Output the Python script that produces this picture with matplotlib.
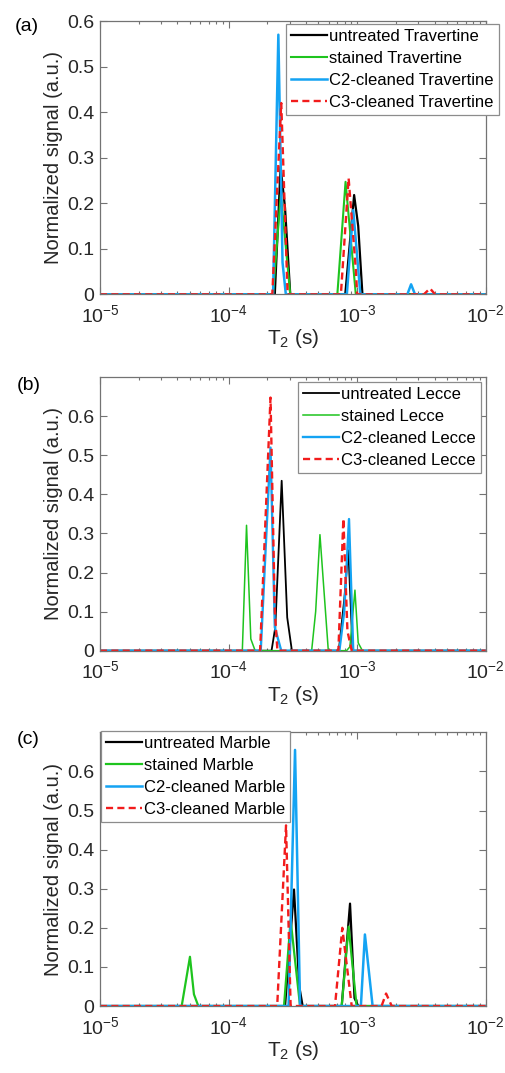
import matplotlib
matplotlib.use("Agg")
import matplotlib.pyplot as plt
from matplotlib.ticker import LogLocator, NullFormatter, FixedLocator

plt.rcParams["font.family"] = ["Liberation Sans", "DejaVu Sans"]
plt.rcParams["mathtext.fontset"] = "custom"
plt.rcParams["mathtext.rm"] = "Liberation Sans"
plt.rcParams["mathtext.it"] = "Liberation Sans:italic"
plt.rcParams["mathtext.default"] = "regular"

# ---------------- T2 distributions (T2 in s, normalized signal) ----------------
# (a) Travertine
trav_untreated_t2 = [1e-5, 2.29e-4, 2.54e-4, 2.75e-4, 3.02e-4, 8.09e-4, 9.48e-4, 1.02e-3, 1.10e-3, 1e-2]
trav_untreated_s = [0, 0, 0.28, 0.19, 0, 0, 0.218, 0.15, 0, 0]
trav_stained_t2 = [1e-5, 2.22e-4, 2.55e-4, 3.02e-4, 7.02e-4, 8.13e-4, 9.77e-4, 1e-2]
trav_stained_s = [0, 0, 0.22, 0, 0, 0.247, 0, 0]
trav_c2_t2 = [1e-5, 2.22e-4, 2.44e-4, 2.63e-4, 2.79e-4, 8.32e-4, 9.33e-4, 1.06e-3,
              2.46e-3, 2.63e-3, 2.82e-3, 1e-2]
trav_c2_s = [0, 0, 0.57, 0.07, 0, 0, 0.185, 0, 0, 0.022, 0, 0]
trav_c3_t2 = [1e-5, 2.19e-4, 2.57e-4, 2.88e-4, 7.48e-4, 8.59e-4, 9.8e-4, 1.0e-3,
              3.31e-3, 3.69e-3, 4.04e-3, 1e-2]
trav_c3_s = [0, 0, 0.42, 0, 0, 0.255, 0.05, 0, 0, 0.013, 0, 0]

# (b) Lecce stone
lecce_untreated_t2 = [1e-5, 2.16e-4, 2.31e-4, 2.59e-4, 2.86e-4, 3.11e-4,
                      7.2e-4, 7.94e-4, 8.55e-4, 9.23e-4, 1e-2]
lecce_untreated_s = [0, 0, 0.06, 0.435, 0.085, 0, 0, 0.13, 0.257, 0, 0]
lecce_stained_t2 = [1e-5, 1.28e-4, 1.38e-4, 1.49e-4, 1.61e-4,
                    4.43e-4, 4.76e-4, 5.14e-4, 5.97e-4,
                    8.28e-4, 8.79e-4, 9.62e-4, 1.02e-3, 1.10e-3, 1e-2]
lecce_stained_s = [0, 0, 0.321, 0.03, 0, 0, 0.1, 0.297, 0, 0, 0.01, 0.155, 0.02, 0, 0]
lecce_c2_t2 = [1e-5, 1.78e-4, 2.12e-4, 2.29e-4, 2.57e-4, 7.28e-4, 7.94e-4, 8.65e-4, 9.33e-4, 1e-2]
lecce_c2_s = [0, 0, 0.52, 0.06, 0, 0, 0.1, 0.337, 0, 0]
lecce_c3_t2 = [1e-5, 1.76e-4, 2.12e-4, 2.29e-4, 2.40e-4, 7.15e-4, 7.82e-4, 8.41e-4, 9.08e-4, 1e-2]
lecce_c3_s = [0, 0, 0.648, 0.1, 0, 0, 0.338, 0.05, 0, 0]

# (c) Marble
marble_untreated_t2 = [1e-5, 2.75e-4, 3.23e-4, 3.55e-4, 3.77e-4, 7.59e-4, 8.81e-4, 9.55e-4, 1.02e-3, 1e-2]
marble_untreated_s = [0, 0, 0.298, 0.05, 0, 0, 0.262, 0.02, 0, 0]
marble_stained_t2 = [1e-5, 4.32e-5, 5.01e-5, 5.38e-5, 5.82e-5, 2.70e-4, 3.04e-4, 3.60e-4,
                     7.59e-4, 8.59e-4, 9.91e-4, 1e-2]
marble_stained_s = [0, 0, 0.126, 0.03, 0, 0, 0.22, 0, 0, 0.203, 0, 0]
marble_c2_t2 = [1e-5, 2.93e-4, 3.29e-4, 3.60e-4, 1.07e-3, 1.15e-3, 1.32e-3, 1e-2]
marble_c2_s = [0, 0, 0.655, 0, 0, 0.183, 0, 0]
marble_c3_t2 = [1e-5, 2.39e-4, 2.80e-4, 3.04e-4, 6.73e-4, 7.67e-4, 9.08e-4,
                1.55e-3, 1.68e-3, 1.86e-3, 1e-2]
marble_c3_s = [0, 0, 0.462, 0, 0, 0.2, 0, 0, 0.032, 0, 0]

treatments = ["untreated", "stained", "C2-cleaned", "C3-cleaned"]
stones = ["Travertine", "Lecce", "Marble"]
panel_tags = ["(a)", "(b)", "(c)"]
y_ticks = [0, 0.1, 0.2, 0.3, 0.4, 0.5, 0.6]
y_tick_labels = ["0", "0.1", "0.2", "0.3", "0.4", "0.5", "0.6"]
y_tops = [0.6, 0.7, 0.7]

panels = [
    [(trav_untreated_t2, trav_untreated_s), (trav_stained_t2, trav_stained_s),
     (trav_c2_t2, trav_c2_s), (trav_c3_t2, trav_c3_s)],
    [(lecce_untreated_t2, lecce_untreated_s), (lecce_stained_t2, lecce_stained_s),
     (lecce_c2_t2, lecce_c2_s), (lecce_c3_t2, lecce_c3_s)],
    [(marble_untreated_t2, marble_untreated_s), (marble_stained_t2, marble_stained_s),
     (marble_c2_t2, marble_c2_s), (marble_c3_t2, marble_c3_s)],
]

colors = ["black", "#1ec41e", "#14a3f3", "#f21c1c"]
widths = [[1.6, 1.5, 1.8, 1.7], [1.3, 1.1, 1.7, 1.7], [1.6, 1.6, 1.8, 1.7]]

# axes rectangles in figure fractions, legend anchors in axes fractions
axes_rects = [
    [0.198, 0.7257, 0.7637, 0.2547],
    [0.198, 0.3936, 0.7637, 0.2548],
    [0.198, 0.0624, 0.7637, 0.2551],
]
legend_anchor = [(0.4815, 0.989), (0.5126, 0.982), (0.0018, 1.006)]
tag_pos = [(0.054, 0.975), (0.056, 0.641), (0.056, 0.311)]

fig = plt.figure(figsize=(5.05, 10.73), dpi=100)
spine_c = "0.45"
text_c = "#262626"

for k in range(3):
    ax = fig.add_axes(axes_rects[k])
    for j in range(4):
        t2, sig = panels[k][j]
        kw = dict(color=colors[j], lw=widths[k][j],
                  label=f"{treatments[j]} {stones[k]}")
        if j == 3:
            kw["dashes"] = (3, 1.8)
        ax.plot(t2, sig, **kw)
    ax.set_xscale("log")
    ax.set_xlim(1e-5, 1e-2)
    ax.set_ylim(0, y_tops[k])
    ax.yaxis.set_major_locator(FixedLocator(y_ticks))
    ax.set_yticklabels(y_tick_labels)
    ax.xaxis.set_major_locator(LogLocator(base=10, numticks=10))
    ax.xaxis.set_minor_locator(LogLocator(base=10, subs=range(2, 10), numticks=20))
    ax.xaxis.set_minor_formatter(NullFormatter())
    ax.tick_params(which="both", direction="in", top=True, right=True,
                   colors=spine_c, labelcolor=text_c, labelsize=14, width=0.8)
    ax.tick_params(which="major", length=5)
    ax.tick_params(which="minor", length=2.5)
    ax.tick_params(axis="y", which="major", pad=4)
    ax.tick_params(axis="x", which="major", pad=7)
    for s in ax.spines.values():
        s.set_color(spine_c)
        s.set_linewidth(0.9)
    ax.set_xlabel("T$_2$ (s)", fontsize=15, color=text_c, labelpad=1)
    ax.set_ylabel("Normalized signal (a.u.)", fontsize=14.5, color=text_c, labelpad=3)
    leg = ax.legend(loc="upper left", bbox_to_anchor=legend_anchor[k], borderaxespad=0,
                    fontsize=12, handlelength=2.15, handletextpad=0.15, borderpad=0.3,
                    labelspacing=0.42, fancybox=False, framealpha=1,
                    edgecolor="0.55")
    leg.get_frame().set_linewidth(0.9)
    for t in leg.get_texts():
        t.set_color("black")
    leg.set_zorder(5)
    fig.text(tag_pos[k][0], tag_pos[k][1], panel_tags[k], fontsize=14,
             ha="center", va="center", color="black")

fig.savefig("out.png", dpi=100)
